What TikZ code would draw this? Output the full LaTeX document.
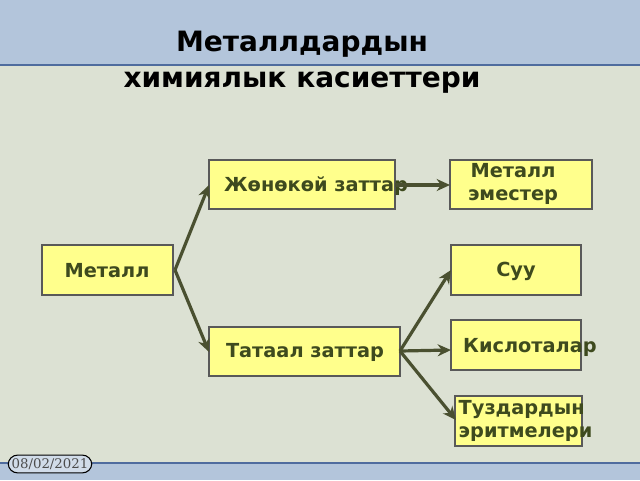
\documentclass[tikz,border=0pt]{standalone}
\usepackage{fontspec}
\setmainfont{DejaVu Sans}
\newfontfamily\datefont{DejaVu Serif}
\usetikzlibrary{arrows.meta}
\definecolor{bg}{HTML}{DCE1D3}
\definecolor{band}{HTML}{B3C5DB}
\definecolor{bandline}{HTML}{4F6C9E}
\definecolor{boxfill}{HTML}{FFFF8C}
\definecolor{txt}{HTML}{3E4A1E}
\definecolor{arr}{HTML}{4A5030}
\begin{document}
\begin{tikzpicture}[x=0.75pt,y=-0.75pt,
  bx/.style={draw=gray!70!black,fill=boxfill,line width=0.8pt},
  lbl/.style={font=\bfseries\fontsize{14.5}{17}\selectfont,text=txt,align=left},
  con/.style={draw=arr,line width=2.4pt,-{Stealth[length=10pt,width=9pt]}}]
\useasboundingbox (0,0) rectangle (640,480);
\fill[bg] (0,0) rectangle (640,480);
\fill[band] (0,0) rectangle (640,65);
\draw[bandline,line width=1pt] (0,65) -- (640,65);
\fill[band] (0,463) rectangle (640,480);
\draw[bandline,line width=1pt] (0,463) -- (640,463);
\node[font=\bfseries\fontsize{21}{27}\selectfont,align=center] (title) at (302,62) {Металлдардын\\химиялык касиеттери};
% boxes
\draw[bx] (209,160) rectangle (395,209); \node[lbl] (jon) at (316,186) {Жөнөкөй заттар};
\coordinate (jonR) at (395,185);
\draw[bx] (450,160) rectangle (592,209); \node[lbl,align=center] (em) at (513,184) {Металл\\ эместер};
\coordinate (emL) at (450,185);
\draw[bx] (42,245) rectangle (173,295); \node[lbl] (met) at (107,271) {Металл};
\coordinate (metR) at (175,270);
\draw[bx] (451,245) rectangle (581,295); \node[lbl] (suu) at (516,271) {Суу};
\coordinate (suuL) at (451,270);
\draw[bx] (209,327) rectangle (400,376); \node[lbl] (tat) at (305,352) {Татаал заттар};
\coordinate (tatR) at (400,351);
\draw[bx] (451,320) rectangle (581,370); \node[lbl] (kis) at (530,347) {Кислоталар};
\coordinate (kisL) at (451,350);
\draw[bx] (455,396) rectangle (582,446); \node[lbl,anchor=west] (tuz) at (454,421) {Туздардын\\эритмелери};
\coordinate (tuzL) at (456,420);
\coordinate (jonL) at (209,185);
\coordinate (tatL) at (209,352);
% connectors
\draw[con] (metR) -- (jonL);
\draw[con] (metR) -- (tatL);
\draw[con] (jonR) -- (emL);
\draw[con] (tatR) -- (suuL);
\draw[con] (tatR) -- (kisL);
\draw[con] (tatR) -- (tuzL);
% date
\node[draw=black,fill=band!60!white,rounded corners=7pt,line width=0.8pt,inner sep=2.5pt,text=gray!60!black,font=\datefont\fontsize{10}{11}\selectfont] (date) at (50,464) {08/02/2021};
\end{tikzpicture}
\end{document}
